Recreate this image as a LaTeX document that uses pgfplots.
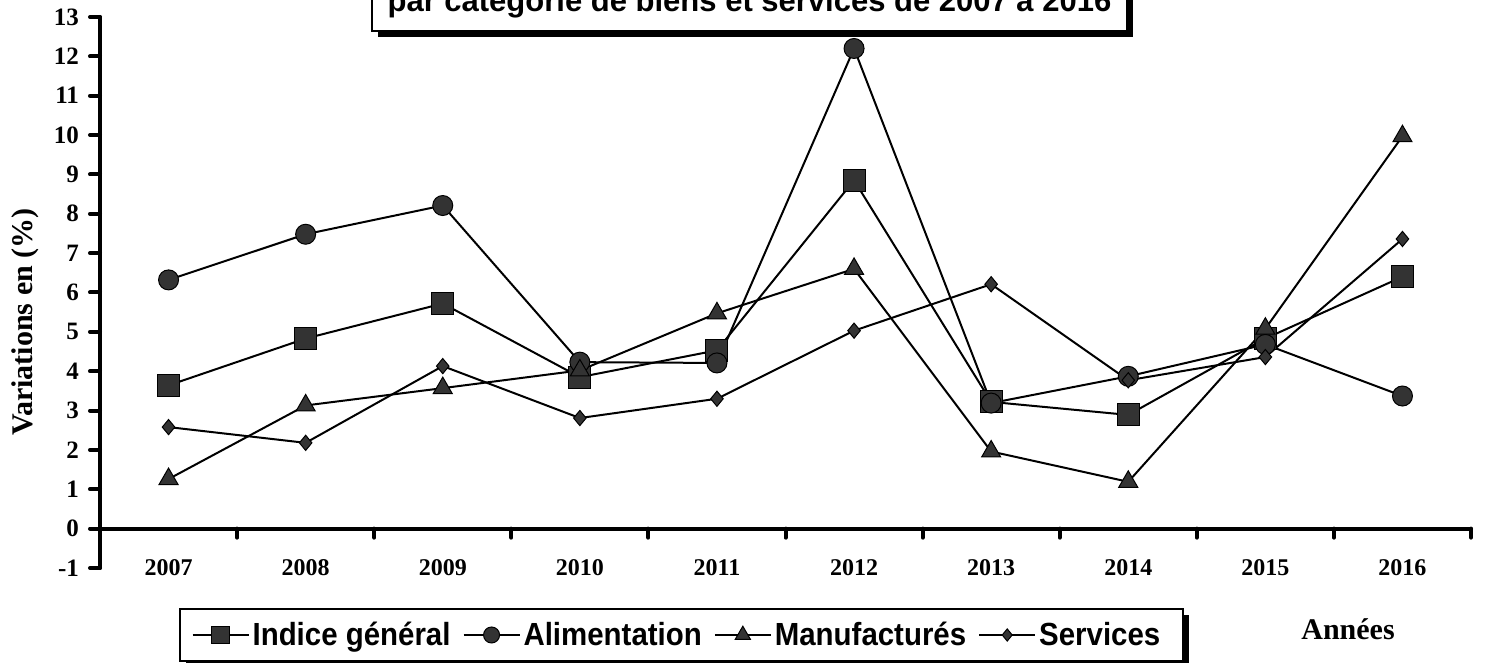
\documentclass[border=0pt]{standalone}
\usepackage{pgfplots}
\pgfplotsset{compat=1.18}
\usepackage{fontspec}
\setmainfont{Liberation Serif}
\newfontfamily\arial{Liberation Sans}
\newfontfamily\arialleg[FakeStretch=0.92]{Liberation Sans}
\definecolor{mk}{HTML}{333333}
\begin{document}
\begin{tikzpicture}
\useasboundingbox (0,0) rectangle (746pt,331.5pt);
% title box
\fill[black] (189pt,313pt) rectangle (566.5pt,360pt);
\filldraw[fill=white, draw=black, line width=1pt] (186pt,316pt) rectangle (563.5pt,360pt);
\node[anchor=base, font=\arial\bfseries\fontsize{15.5}{18}\selectfont, inner sep=0pt] at (374.75pt,325.5pt) {par catégorie de biens et services de 2007 à 2016};
% legend box
\fill[black] (93pt,-2pt) rectangle (594.5pt,24pt);
\filldraw[fill=white, draw=black, line width=1pt] (90pt,1pt) rectangle (591.5pt,27pt);
\begin{axis}[
  at={(50pt,47.5pt)}, anchor=south west,
  scale only axis, width=685.5pt, height=275.5pt,
  xmin=-0.5, xmax=9.5, ymin=-1, ymax=13,
  axis x line=middle, axis y line=left,
  axis line style={-, line width=2pt, line cap=round},
  xtick={0,...,9},
  xticklabels={2007,2008,2009,2010,2011,2012,2013,2014,2015,2016},
  minor xtick={-0.5,0.5,...,9.5},
  ytick={-1,0,...,13},
  tick align=outside,
  major tick length=5pt, minor tick length=4.5pt,
  tick style={black, line width=2pt, line cap=round},
  major x tick style={draw=none},
  xticklabel style={font=\fontsize{12}{14}\selectfont\bfseries, anchor=center, yshift=-14.25pt},
  yticklabel style={font=\fontsize{12.5}{14}\selectfont\bfseries, xshift=-2pt},
  /pgf/number format/assume math mode=true,
  clip=false,
  legend columns=4,
  legend style={at={(0.4212,-0.1216)}, anchor=center, draw=none, fill=none,
    font=\arialleg\bfseries\fontsize{16}{18}\selectfont,
    nodes={inner sep=1.5pt},
    /tikz/every even column/.append style={column sep=4.5pt}},
  legend cell align=left,
  legend image code/.code={\draw[#1, mark repeat=2, mark phase=2, every mark/.append style={scale=0.8}] plot coordinates {(0pt,0pt) (14pt,0pt) (28pt,0pt)};},
]
\addplot[black, line width=1pt, mark=square*, mark size=5.5pt, mark options={fill=mk, draw=black, line width=0.5pt}] coordinates {
(0,3.64) (1,4.83) (2,5.72) (3,3.85) (4,4.53) (5,8.85) (6,3.22) (7,2.89) (8,4.83) (9,6.40)};
\addlegendentry{Indice général}
\addplot[black, line width=1pt, mark=*, mark size=5pt, mark options={fill=mk, draw=black, line width=0.5pt}] coordinates {
(0,6.32) (1,7.48) (2,8.21) (3,4.23) (4,4.21) (5,12.2) (6,3.19) (7,3.87) (8,4.68) (9,3.37)};
\addlegendentry{Alimentation}
\addplot[black, line width=1pt, mark=triangle*, mark size=5.5pt, mark options={fill=mk, draw=black, line width=0.5pt}] coordinates {
(0,1.26) (1,3.13) (2,3.57) (3,4.02) (4,5.47) (5,6.6) (6,1.96) (7,1.19) (8,5.08) (9,9.97)};
\addlegendentry{Manufacturés}
\addplot[black, line width=1pt, mark=diamond*, mark size=3.8pt, mark options={fill=mk, draw=black, line width=0.5pt, xscale=1.1}] coordinates {
(0,2.58) (1,2.18) (2,4.13) (3,2.81) (4,3.30) (5,5.03) (6,6.21) (7,3.77) (8,4.36) (9,7.36)};
\addlegendentry{Services}
\end{axis}
\node[font=\fontsize{15}{17}\selectfont\bfseries] at (674pt,17pt) {Années};
\node[font=\fontsize{15}{17}\selectfont\bfseries, rotate=90] at (12.5pt,170.5pt) {Variations en (\%)};
\end{tikzpicture}
\end{document}
